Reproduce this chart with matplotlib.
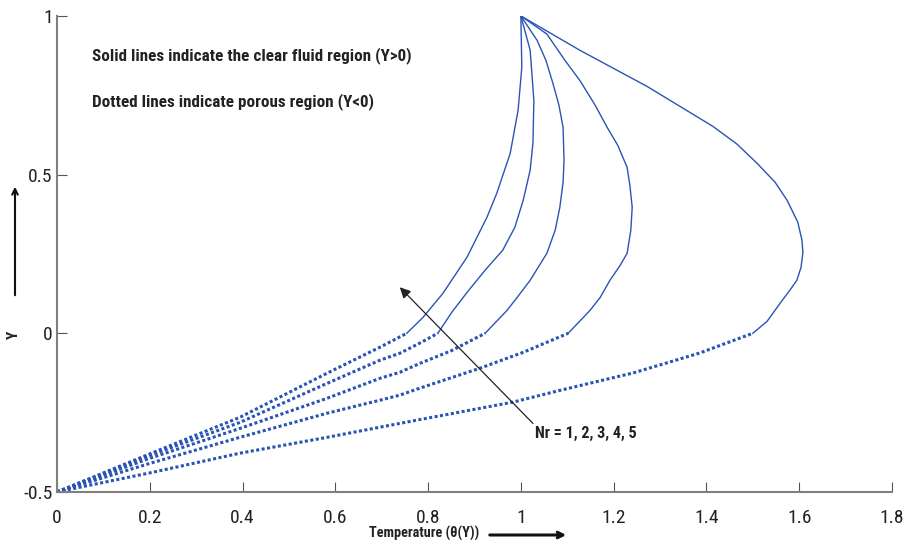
import matplotlib.pyplot as plt
from matplotlib import font_manager as fm
from matplotlib.patches import FancyArrowPatch

# (theta, Y); porous part (Y<0) drawn dotted, clear fluid part (Y>0) solid
nr_values = [1, 2, 3, 4, 5]

theta_porous = {
    1: [0.0, 0.2, 0.394, 0.582, 0.696, 0.739, 0.782, 0.983, 1.084, 1.170, 1.242, 1.386, 1.500],
    2: [0.0, 0.2, 0.394, 0.582, 0.696, 0.739, 0.782, 0.912, 1.005, 1.102],
    3: [0.0, 0.2, 0.394, 0.582, 0.696, 0.739, 0.782, 0.850, 0.923],
    4: [0.0, 0.2, 0.394, 0.582, 0.696, 0.739, 0.782, 0.821],
    5: [0.0, 0.2, 0.394, 0.582, 0.696, 0.754],
}
Y_porous = {
    1: [-0.5, -0.44, -0.378, -0.328, -0.296, -0.284, -0.272, -0.217, -0.180, -0.150, -0.125, -0.062, 0.0],
    2: [-0.5, -0.41, -0.328, -0.252, -0.211, -0.195, -0.173, -0.110, -0.060, 0.0],
    3: [-0.5, -0.394, -0.300, -0.205, -0.142, -0.123, -0.095, -0.055, 0.0],
    4: [-0.5, -0.385, -0.281, -0.158, -0.085, -0.063, -0.031, 0.0],
    5: [-0.5, -0.38, -0.265, -0.126, -0.044, 0.0],
}

theta_clear = {
    1: [1.500, 1.531, 1.559, 1.580, 1.595, 1.604, 1.608, 1.606, 1.597, 1.574, 1.548,
        1.509, 1.466, 1.414, 1.272, 1.127, 1.0],
    2: [1.102, 1.149, 1.171, 1.192, 1.214, 1.229, 1.237, 1.240, 1.235, 1.229, 1.209,
        1.186, 1.160, 1.127, 1.095, 1.056, 1.0],
    3: [0.923, 0.970, 0.992, 1.020, 1.056, 1.074, 1.084, 1.091, 1.093, 1.091, 1.082,
        1.069, 1.054, 1.035, 1.0],
    4: [0.821, 0.851, 0.884, 0.923, 0.961, 0.987, 1.005, 1.020, 1.026, 1.028, 1.020, 1.0],
    5: [0.754, 0.789, 0.832, 0.884, 0.927, 0.948, 0.977, 0.994, 1.002, 1.0],
}
Y_clear = {
    1: [0.0, 0.038, 0.095, 0.136, 0.167, 0.208, 0.255, 0.293, 0.350, 0.419, 0.476,
        0.536, 0.596, 0.652, 0.778, 0.892, 1.0],
    2: [0.0, 0.072, 0.113, 0.167, 0.214, 0.252, 0.325, 0.397, 0.466, 0.523, 0.592,
        0.649, 0.719, 0.797, 0.860, 0.943, 1.0],
    3: [0.0, 0.072, 0.113, 0.167, 0.252, 0.325, 0.397, 0.476, 0.545, 0.649, 0.719,
        0.788, 0.860, 0.923, 1.0],
    4: [0.0, 0.066, 0.129, 0.199, 0.262, 0.334, 0.419, 0.514, 0.599, 0.734, 0.892, 1.0],
    5: [0.0, 0.050, 0.126, 0.240, 0.366, 0.441, 0.567, 0.703, 0.838, 1.0],
}

xticks = [0, 0.2, 0.4, 0.6, 0.8, 1, 1.2, 1.4, 1.6, 1.8]
xticklabels = ['0', '0.2', '0.4', '0.6', '0.8', '1', '1.2', '1.4', '1.6', '1.8']
yticks = [-0.5, 0, 0.5, 1]
yticklabels = ['-0.5', '0', '0.5', '1']

# narrow font like the original, whatever is installed
entries = fm.fontManager.ttflist
names = {f.name for f in entries}
STRETCH = 'normal'
if 'Liberation Sans Narrow' in names:
    FONT = ['Liberation Sans Narrow', 'DejaVu Sans']
elif 'Roboto Condensed' in names:
    FONT = ['Roboto Condensed', 'DejaVu Sans']
elif any(f.name == 'DejaVu Sans' and f.stretch == 'condensed' for f in entries):
    FONT = ['DejaVu Sans']
    STRETCH = 'condensed'
else:
    FONT = ['Liberation Sans', 'DejaVu Sans']

BLUE = '#2a54b4'
TXT = '#222222'

fig = plt.figure(figsize=(9.05, 5.46), dpi=100)
ax = fig.add_axes([0.063, 0.099, 0.9226, 0.8718])

for nr in nr_values:
    ax.plot(theta_porous[nr], Y_porous[nr], color=BLUE, linestyle=(0, (1, 0.8)), linewidth=2.2)
    ax.plot(theta_clear[nr], Y_clear[nr], color=BLUE, linewidth=1.0)

ax.set_xlim(0, 1.8)
ax.set_ylim(-0.5, 1)
ax.set_xticks(xticks)
ax.set_xticklabels(xticklabels)
ax.set_yticks(yticks)
ax.set_yticklabels(yticklabels)
for lab in ax.get_xticklabels() + ax.get_yticklabels():
    lab.set_family(FONT)
    lab.set_stretch(STRETCH)
    lab.set_fontsize(14)
    lab.set_color(TXT)
ax.tick_params(direction='in', length=7, width=0.8, color='#555555')
ax.tick_params(axis='x', pad=12)
ax.tick_params(axis='y', pad=3)

for s in ['top', 'right']:
    ax.spines[s].set_visible(False)
for s in ['left', 'bottom']:
    ax.spines[s].set_color('#808080')
    ax.spines[s].set_linewidth(1.5)

kw = dict(family=FONT, stretch=STRETCH, fontweight='bold', color=TXT, va='center')
t1 = ax.text(0.075, 0.876, 'Solid lines indicate the clear fluid region (Y>0)', fontsize=13, **kw)
t2 = ax.text(0.075, 0.731, 'Dotted lines indicate porous region (Y<0)', fontsize=13, **kw)

ax.annotate('', xy=(0.739, 0.145), xytext=(1.026, -0.284),
            arrowprops=dict(arrowstyle='-|>', color='#222222', lw=0.9,
                            mutation_scale=16, shrinkA=0, shrinkB=0))
t3 = ax.text(1.030, -0.315, 'Nr = 1, 2, 3, 4, 5', fontsize=13, **kw)

# axis labels with arrows, MATLAB-figure style
t4 = fig.text(369 / 905, 1 - 533 / 546, 'Temperature (θ(Y))', fontsize=12, ha='left', **kw)
fig.add_artist(FancyArrowPatch((487 / 905, 1 - 535 / 546), (569 / 905, 1 - 535 / 546),
                               transform=fig.transFigure, arrowstyle='->',
                               mutation_scale=10, color='#111111', lw=2.2))
fig.text(14 / 905, 1 - 335 / 546, 'Y', fontsize=11, ha='center', rotation=90, **kw)
fig.add_artist(FancyArrowPatch((15 / 905, 1 - 298 / 546), (15 / 905, 1 - 184 / 546),
                               transform=fig.transFigure, arrowstyle='->',
                               mutation_scale=10, color='#111111', lw=1.5))

# scale the text so its width matches the reference
fig.canvas.draw()
r = fig.canvas.get_renderer()
for t, w in [(t1, 318), (t2, 280), (t3, 102), (t4, 110)]:
    cur = t.get_window_extent(r).width
    t.set_fontsize(min(t.get_fontsize() * w / cur, 15))

fig.savefig('out.png', dpi=100)
